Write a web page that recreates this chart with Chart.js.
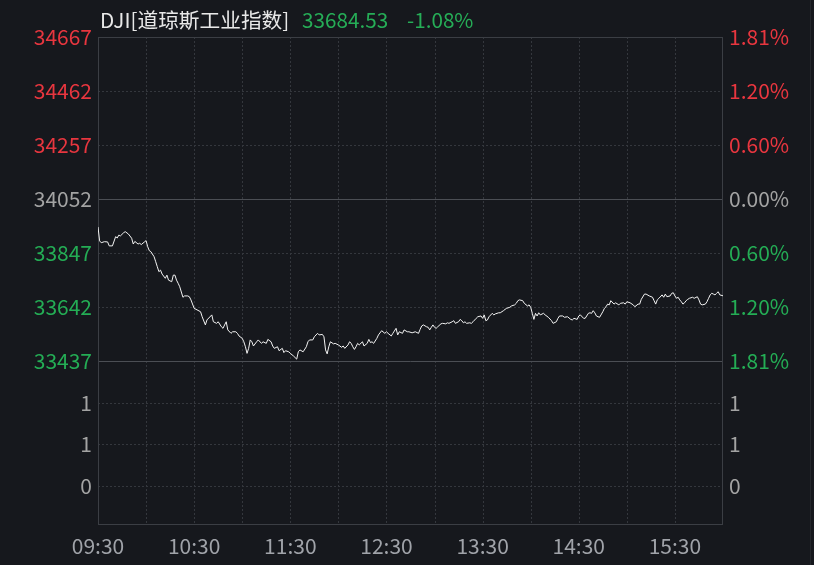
<!DOCTYPE html>
<html>
<head>
<meta charset="utf-8">
<script src="https://cdn.jsdelivr.net/npm/chart.js@4.4.1/dist/chart.umd.min.js"></script>
<style>
html, body { margin: 0; padding: 0; background: #16181d; }
#wrap { position: relative; width: 814px; height: 565px; overflow: hidden; }
#chart { position: absolute; left: 0; top: 0; }
#title { position: absolute; left: 0; top: 7px; height: 24px; width: 814px;
         font: 20.7px "Noto Sans CJK SC", sans-serif; line-height: 24px; white-space: nowrap; }
#title span { position: absolute; top: 0; }
#frameR { position: absolute; left: 810px; top: 0; width: 1px; height: 565px; background: #24272c; }
</style>
</head>
<body>
<div id="wrap">
  <canvas id="chart" width="814" height="565"></canvas>
  <div id="title">
    <span id="t-name" style="left:100px;color:#e8e8e8"></span>
    <span id="t-last" style="left:302px;color:#26ad57"></span>
    <span id="t-chg" style="left:407px;color:#26ad57"></span>
  </div>
  <div id="frameR"></div>
</div>
<script>
// Quote info
const symbolName = "DJI[道琼斯工业指数]";
const prevClose = 34052;

// Axis labels
const timeLabels = ["09:30", "10:30", "11:30", "12:30", "13:30", "14:30", "15:30"];
const priceTicks = [34667, 34462, 34257, 34052, 33847, 33642, 33437];
const volumeTicks = [0, 0.5, 1];

// Intraday series: minutes after 09:30 and index level
const tradeMinutes = [
  0, 1, 2, 4, 6, 7, 9, 11, 12, 13, 14, 16, 17, 19, 21, 22, 23, 25, 26, 27,
  29, 30, 31, 32, 33, 35, 36, 37, 38, 39, 40, 42, 43, 44, 46, 47, 48, 49, 50, 51,
  53, 54, 56, 57, 58, 60,
  64, 65, 67, 68, 71, 72, 74, 75, 77, 78, 79, 80, 81, 83, 84, 86, 87, 88, 90, 91,
  92, 93, 94, 95, 96, 97, 99, 100, 102, 103, 105, 106, 108, 109, 110, 112, 113, 115, 116, 117,
  119, 120, 122, 124, 125, 126, 128, 130, 131,
  132, 134, 135, 137, 138, 140, 141, 142, 143, 144, 145, 147, 148, 150, 152, 153, 154, 156, 157, 158,
  159, 160, 161, 162, 163, 165, 166, 168, 169, 170, 171, 172, 174, 175, 177, 179, 180, 181, 183, 184,
  186, 187, 188, 190, 191, 193, 194, 196,
  198, 200, 201, 202, 203, 205, 206, 207, 208, 209, 210, 211, 212, 214, 215, 217, 218, 219, 221, 222,
  223, 225, 226, 227, 228, 229, 230, 232, 233, 234, 236, 237, 239, 240, 241, 242, 243, 244, 246, 247,
  248, 250, 251, 253, 254, 255, 257, 258, 260, 261,
  262, 263, 265, 266, 268, 269, 270, 271, 272, 273, 274, 275, 276, 278, 279, 281, 283, 284, 286, 287,
  288, 290, 291, 293, 295, 296, 297, 299, 300, 301, 303, 304, 306, 307, 308, 309, 310, 311, 312, 313,
  315, 316, 317, 318, 319, 320, 322, 323, 325, 326, 328,
  329, 330, 332, 334, 335, 337, 338, 339, 341, 342, 344, 346, 347, 348, 349, 350, 352, 353, 354, 355,
  357, 358, 359, 360, 361, 362, 363, 364, 365, 366, 367, 368, 369, 371, 372, 374, 375, 376, 377, 379,
  380, 381, 382, 383, 384, 385, 386, 387, 388, 390
];
const tradePrices = [
  33946, 33893, 33886, 33890, 33889, 33874, 33874, 33909, 33904, 33915, 33912, 33924, 33928, 33919, 33903, 33881, 33891, 33881, 33884, 33879,
  33889, 33894, 33871, 33856, 33852, 33833, 33814, 33795, 33776, 33782, 33767, 33751, 33763, 33744, 33738, 33763, 33763, 33744, 33732, 33719,
  33679, 33684, 33684, 33681, 33669, 33637,
  33624, 33605, 33574, 33593, 33612, 33586, 33580, 33586, 33567, 33561, 33574, 33586, 33555, 33542, 33548, 33548, 33542, 33532, 33523, 33510,
  33491, 33466, 33485, 33517, 33510, 33494, 33510, 33517, 33504, 33510, 33504, 33519, 33510, 33494, 33485, 33491, 33476, 33485, 33469, 33476,
  33472, 33466, 33456, 33444, 33472, 33479, 33472, 33491, 33510,
  33517, 33517, 33529, 33542, 33536, 33538, 33529, 33479, 33464, 33491, 33510, 33502, 33504, 33498, 33489, 33494, 33485, 33498, 33510, 33504,
  33491, 33481, 33491, 33504, 33498, 33510, 33494, 33504, 33519, 33507, 33510, 33504, 33523, 33536, 33552, 33542, 33548, 33542, 33532, 33542,
  33561, 33536, 33548, 33542, 33555, 33548, 33548, 33544,
  33548, 33542, 33557, 33570, 33574, 33567, 33565, 33555, 33565, 33574, 33565, 33561, 33567, 33578, 33580, 33578, 33582, 33580, 33586, 33590,
  33580, 33586, 33595, 33590, 33582, 33586, 33580, 33582, 33580, 33586, 33599, 33605, 33608, 33599, 33612, 33590, 33593, 33605, 33618, 33612,
  33616, 33620, 33620, 33628, 33633, 33637, 33641, 33646, 33650, 33656,
  33666, 33669, 33666, 33656, 33646, 33650, 33641, 33618, 33595, 33618, 33608, 33620, 33612, 33618, 33612, 33603, 33590, 33580, 33586, 33599,
  33608, 33608, 33603, 33605, 33595, 33593, 33599, 33595, 33608, 33612, 33599, 33599, 33618, 33620, 33618, 33628, 33620, 33608, 33605, 33603,
  33624, 33637, 33643, 33653, 33650, 33666, 33653, 33658, 33650, 33656, 33658,
  33653, 33662, 33658, 33650, 33643, 33653, 33653, 33671, 33691, 33691, 33684, 33679, 33666, 33653, 33669, 33675, 33688, 33679, 33691, 33681,
  33684, 33694, 33696, 33684, 33675, 33679, 33669, 33662, 33653, 33658, 33666, 33671, 33675, 33679, 33675, 33681, 33669, 33653, 33650, 33653,
  33662, 33675, 33688, 33694, 33691, 33688, 33694, 33700, 33688, 33684.53
];

// Colours
const RED = "#e8363f";
const GREEN = "#24ad55";
const GRAY = "#a3a3a3";
const FONT = { family: '"Noto Sans CJK SC", "Noto Sans", sans-serif', size: 21 };

// Title line
const lastPrice = tradePrices[tradePrices.length - 1];
document.getElementById("t-name").innerText = symbolName;
document.getElementById("t-last").innerText = lastPrice.toFixed(2);
document.getElementById("t-chg").innerText = ((lastPrice - prevClose) / prevClose * 100).toFixed(2) + "%";

function toMinute(label) {
    const [h, m] = label.split(":").map(Number);
    return h * 60 + m - (9 * 60 + 30);
}

function priceColor(v) {
    if (v > prevClose) return RED;
    if (v < prevClose) return GREEN;
    return GRAY;
}

// Grid lines and frame
const gridPlugin = {
    id: "gridLines",
    beforeDatasetsDraw(chart) {
        const { ctx, chartArea: a, scales } = chart;
        const x = scales.x, yp = scales.yPrice, yv = scales.yVol;
        ctx.save();
        ctx.lineWidth = 1;
        ctx.strokeStyle = "#34373d";
        ctx.setLineDash([2, 2]);
        ctx.beginPath();
        for (let m = 30; m < x.max; m += 30) {
            const px = Math.round(x.getPixelForValue(m)) + 0.5;
            ctx.moveTo(px, a.top);
            ctx.lineTo(px, a.bottom);
        }
        priceTicks.forEach(v => {
            if (v === prevClose || v === yp.min || v === yp.max) return;
            const py = Math.round(yp.getPixelForValue(v)) + 0.5;
            ctx.moveTo(a.left, py);
            ctx.lineTo(a.right, py);
        });
        volumeTicks.forEach(v => {
            const py = Math.round(yv.getPixelForValue(v)) + 0.5;
            ctx.moveTo(a.left, py);
            ctx.lineTo(a.right, py);
        });
        ctx.stroke();

        ctx.setLineDash([]);
        ctx.strokeStyle = "#4b4e54";
        ctx.beginPath();
        [prevClose, yp.min].forEach(v => {
            const py = Math.round(yp.getPixelForValue(v)) + 0.5;
            ctx.moveTo(a.left, py);
            ctx.lineTo(a.right, py);
        });
        ctx.stroke();

        ctx.strokeStyle = "#3b3e44";
        ctx.strokeRect(a.left + 0.5, a.top + 0.5, a.width - 1, a.height);
        ctx.restore();
    }
};

const noGrid = { display: false, drawTicks: false };
const noBorder = { display: false };

new Chart(document.getElementById("chart"), {
    type: "line",
    data: {
        datasets: [{
            data: tradeMinutes.map((m, i) => ({ x: m, y: tradePrices[i] })),
            borderColor: "#f4f4f4",
            borderWidth: 1,
            pointRadius: 0,
            tension: 0,
            xAxisID: "x",
            yAxisID: "yPrice"
        }]
    },
    options: {
        responsive: false,
        animation: false,
        layout: { padding: { top: 37, left: 0, right: 0, bottom: 0 } },
        plugins: { legend: { display: false }, tooltip: { enabled: false } },
        scales: {
            x: {
                type: "linear", min: 0, max: 390,
                grid: noGrid, border: noBorder,
                afterBuildTicks: s => { s.ticks = timeLabels.map(t => ({ value: toMinute(t) })); },
                afterFit: s => { s.height = 41; },
                ticks: {
                    autoSkip: false, maxRotation: 0, padding: 9, color: "#a0a3a9", font: FONT,
                    callback: (v, i) => timeLabels[i]
                }
            },
            yVol: {
                type: "linear", position: "left", stack: "left", stackWeight: 163,
                min: -0.458, max: 1.506,
                grid: noGrid, border: noBorder,
                afterBuildTicks: s => { s.ticks = volumeTicks.map(v => ({ value: v })); },
                afterFit: s => { s.width = 98; },
                ticks: { autoSkip: false, padding: 6, color: GRAY, font: FONT, callback: v => String(Math.round(v)) }
            },
            yPrice: {
                type: "linear", position: "left", stack: "left", stackWeight: 324,
                min: priceTicks[priceTicks.length - 1], max: priceTicks[0],
                grid: noGrid, border: noBorder,
                afterBuildTicks: s => { s.ticks = priceTicks.map(v => ({ value: v })); },
                afterFit: s => { s.width = 98; },
                ticks: {
                    autoSkip: false, padding: 6, font: FONT,
                    color: c => priceColor(c.tick.value),
                    callback: v => String(v)
                }
            },
            yPct: {
                type: "linear", position: "right", stack: "right", stackWeight: 324,
                min: priceTicks[priceTicks.length - 1], max: priceTicks[0],
                grid: noGrid, border: noBorder,
                afterBuildTicks: s => { s.ticks = priceTicks.map(v => ({ value: v })); },
                afterFit: s => { s.width = 91; },
                ticks: {
                    autoSkip: false, padding: 6, font: FONT,
                    color: c => priceColor(c.tick.value),
                    callback: v => (Math.abs(v - prevClose) / prevClose * 100).toFixed(2) + "%"
                }
            },
            yVolR: {
                type: "linear", position: "right", stack: "right", stackWeight: 163,
                min: -0.458, max: 1.506,
                grid: noGrid, border: noBorder,
                afterBuildTicks: s => { s.ticks = volumeTicks.map(v => ({ value: v })); },
                afterFit: s => { s.width = 91; },
                ticks: { autoSkip: false, padding: 6, color: GRAY, font: FONT, callback: v => String(Math.round(v)) }
            }
        }
    },
    plugins: [gridPlugin]
});
</script>
</body>
</html>
